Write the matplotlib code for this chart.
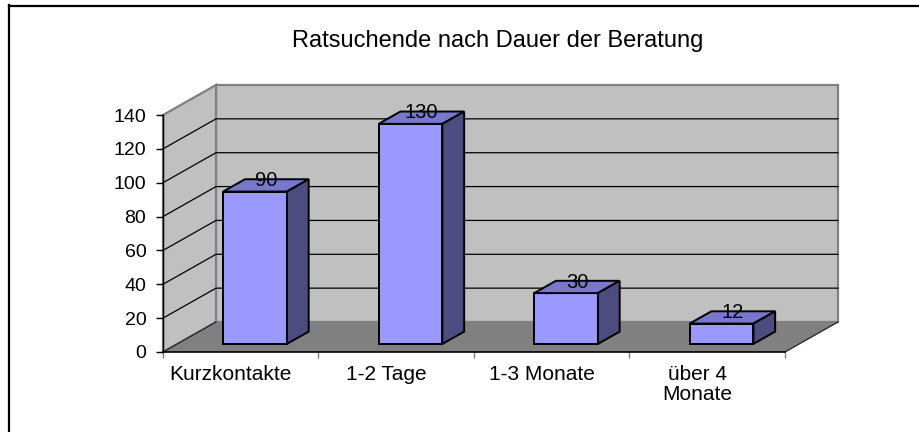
import numpy as np
import matplotlib
matplotlib.use("Agg")
import matplotlib.pyplot as plt
from matplotlib.patches import Polygon
from matplotlib.lines import Line2D

# ============================================================
# DATA
# ============================================================
categories = ["Kurzkontakte", "1-2 Tage", "1-3 Monate", "über 4\nMonate"]
values = [90, 130, 30, 12]
y_ticks = [0, 20, 40, 60, 80, 100, 120, 140]
title = "Ratsuchende nach Dauer der Beratung"

# ============================================================
# STYLE / 3D PSEUDO-PROJECTION
# ============================================================
plt.rcParams["font.family"] = ["Liberation Sans", "DejaVu Sans"]
W, H, DPI = 920, 432, 100
ymax = y_ticks[-1]
n = len(categories)

# depth offset of the back wall (in category units / value units)
DX = 53 / 155.5
DY = 30 / (237 / ymax)
bar_w = 0.41
d0, d1 = 0.27, 0.68  # bar front / back depth

c_front = "#9999FF"
c_top = "#7777CC"
c_side = "#4C4C80"
c_wall = "#C0C0C0"
c_floor = "#808080"
c_edge = "#808080"


def proj(x, v, d):
    return (x + d * DX, v + d * DY)


fig = plt.figure(figsize=(W / DPI, H / DPI), dpi=DPI)
ax = fig.add_axes([163 / W, (H - 352) / H, 622 / W, 237 / H])
ax.set_xlim(0, n)
ax.set_ylim(0, ymax)

# ---------- walls + floor ----------
back = Polygon([proj(0, 0, 1), proj(n, 0, 1), proj(n, ymax, 1), proj(0, ymax, 1)],
               closed=True, fc=c_wall, ec=c_edge, lw=1.6, clip_on=False, zorder=1)
side = Polygon([proj(0, 0, 0), proj(0, 0, 1), proj(0, ymax, 1), proj(0, ymax, 0)],
               closed=True, fc=c_wall, ec=c_edge, lw=1.6, clip_on=False, zorder=1)
floor = Polygon([proj(0, 0, 0), proj(n, 0, 0), proj(n, 0, 1), proj(0, 0, 1)],
                closed=True, fc=c_floor, ec="none", clip_on=False, zorder=1.5)
for p in (back, side, floor):
    ax.add_patch(p)

# floor edges
for xs in ([0, 0], [n, n]):
    a, b = proj(xs[0], 0, 0), proj(xs[1], 0, 1)
    ax.plot([a[0], b[0]], [a[1], b[1]], color="#222222", lw=0.9, clip_on=False, zorder=2)

# ---------- gridlines ----------
for v in y_ticks[1:-1]:
    a, b, c = proj(0, v, 0), proj(0, v, 1), proj(n, v, 1)
    ax.plot([a[0], b[0], c[0]], [a[1], b[1], c[1]], color="black", lw=0.9,
            clip_on=False, zorder=2)

# ---------- bars ----------
for i, v in enumerate(values):
    x0 = i + 0.5 - bar_w / 2
    x1 = x0 + bar_w
    front = [proj(x0, 0, d0), proj(x1, 0, d0), proj(x1, v, d0), proj(x0, v, d0)]
    top = [proj(x0, v, d0), proj(x1, v, d0), proj(x1, v, d1), proj(x0, v, d1)]
    right = [proj(x1, 0, d0), proj(x1, 0, d1), proj(x1, v, d1), proj(x1, v, d0)]
    for pts, col in ((front, c_front), (top, c_top), (right, c_side)):
        ax.add_patch(Polygon(pts, closed=True, fc=col, ec="black", lw=1.4,
                             joinstyle="miter", clip_on=False, zorder=3))
    cx, cy = proj(i + 0.5, v, (d0 + d1) / 2)
    ax.annotate(str(v), (cx, cy), xytext=(0, 3.5), textcoords="offset points",
                ha="center", va="center", fontsize=14.5, zorder=4,
                annotation_clip=False)

# ---------- axes ----------
for s in ("top", "right"):
    ax.spines[s].set_visible(False)
ax.spines["left"].set_color("black")
ax.spines["bottom"].set_color("black")
ax.spines["left"].set_linewidth(1.0)
ax.spines["bottom"].set_linewidth(1.2)
ax.spines["left"].set_zorder(2.5)
ax.spines["bottom"].set_zorder(2.5)
ax.set_facecolor("none")
ax.set_yticks(y_ticks)
ax.tick_params(axis="y", length=5, width=1, pad=7, labelsize=14, color="black")
ax.set_xticks(np.arange(n + 1))
ax.set_xticklabels([])
ax.tick_params(axis="x", length=4, width=1, color="#808080")

for i, lab in enumerate(categories):
    ax.annotate(lab, (i + 0.5 - 0.065, 0), xycoords=("data", "axes fraction"),
                xytext=(0, -9), textcoords="offset points",
                ha="center", va="top", fontsize=15, linespacing=1.1,
                annotation_clip=False)

# ---------- title + border ----------
fig.text(498 / W, 1 - 41 / H, title, ha="center", va="center", fontsize=17)
fig.add_artist(Line2D([8.5 / W, 8.5 / W], [0, 1 - 5 / H], color="black", lw=1.6))
fig.add_artist(Line2D([8.5 / W, 1], [1 - 6 / H, 1 - 6 / H], color="black", lw=1.6))

fig.savefig("out.png", dpi=DPI, facecolor="white")
